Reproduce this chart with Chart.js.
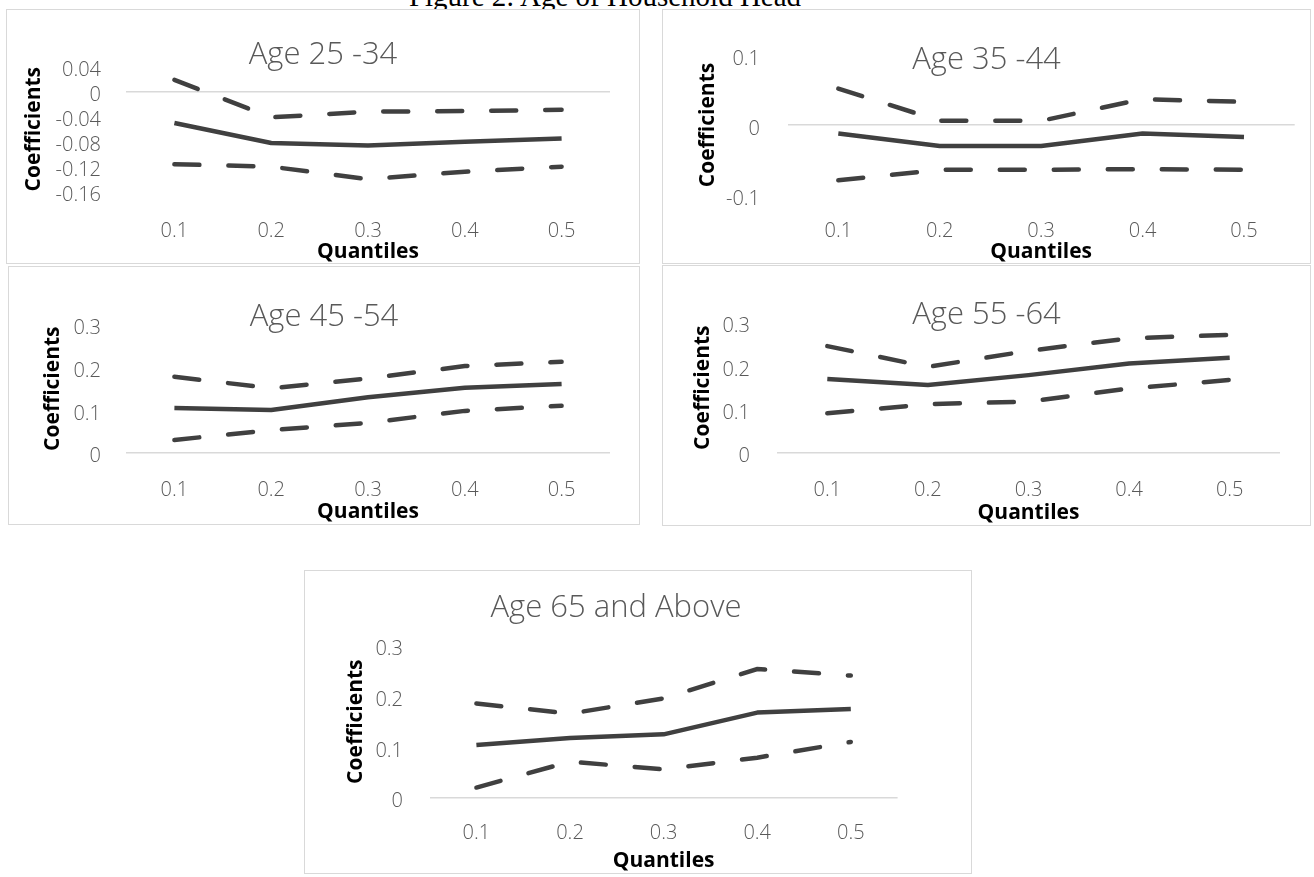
<!DOCTYPE html>
<html>
<head>
<meta charset="utf-8">
<title>Figure 2: Age of Household Head</title>
<script src="https://cdn.jsdelivr.net/npm/chart.js@4.4.1/dist/chart.umd.min.js"></script>
<style>
    body {
        margin: 0;
        width: 1314px;
        height: 877px;
        position: relative;
        overflow: hidden;
        background: #fff;
    }
    .fig-title {
        position: absolute;
        left: 0;
        width: 1210px;
        top: -18px;
        text-align: center;
        font: 29px/29px 'Liberation Serif', 'Times New Roman', serif;
        color: #000;
        white-space: nowrap;
    }
    .panel {
        position: absolute;
        box-sizing: border-box;
        border: 1px solid #d9d9d9;
        background: #fff;
    }
    .panel canvas {
        display: block;
    }
</style>
</head>
<body>
<div class="fig-title">Figure 2: Age of Household Head</div>

<script>
const quantiles = ['0.1', '0.2', '0.3', '0.4', '0.5'];
const panelTitles = ['Age 25 -34', 'Age 35 -44', 'Age 45 -54', 'Age 55 -64', 'Age 65 and Above'];

// y tick labels per panel
const ticks25 = ['0.04', '0', '-0.04', '-0.08', '-0.12', '-0.16'];
const ticks35 = ['0.1', '0', '-0.1'];
const ticks45 = ['0.3', '0.2', '0.1', '0'];
const ticks55 = ['0.3', '0.2', '0.1', '0'];
const ticks65 = ['0.3', '0.2', '0.1', '0'];

// coefficient, upper bound, lower bound
const coef25 = [-0.05, -0.082, -0.086, -0.08, -0.075];
const upper25 = [0.019, -0.041, -0.032, -0.031, -0.029];
const lower25 = [-0.116, -0.12, -0.14, -0.128, -0.12];

const coef35 = [-0.012, -0.03, -0.03, -0.012, -0.017];
const upper35 = [0.052, 0.006, 0.006, 0.037, 0.033];
const lower35 = [-0.079, -0.064, -0.064, -0.063, -0.064];

const coef45 = [0.105, 0.1, 0.13, 0.152, 0.161];
const upper45 = [0.178, 0.151, 0.174, 0.203, 0.213];
const lower45 = [0.03, 0.053, 0.07, 0.098, 0.11];

const coef55 = [0.17, 0.156, 0.179, 0.206, 0.219];
const upper55 = [0.246, 0.198, 0.235, 0.264, 0.272];
const lower55 = [0.091, 0.112, 0.118, 0.148, 0.168];

const coef65 = [0.104, 0.118, 0.125, 0.168, 0.175];
const upper65 = [0.186, 0.166, 0.196, 0.254, 0.241];
const lower65 = [0.02, 0.071, 0.056, 0.079, 0.11];

// page positions (px) of each panel box, plot area and texts
const layouts = [
    { box: [6, 9, 634, 255], plot: [126, 610, 66.7, 191.7], titleMid: 55, shift: 0, yLabelRight: 101, yTitleX: 34, xLabelY: 231, xTitleY: 252 },
    { box: [662, 9, 649, 255], plot: [787.6, 1294.7, 55, 195], titleMid: 60, shift: 0, yLabelRight: 760, yTitleX: 708, xLabelY: 231, xTitleY: 252 },
    { box: [8, 266, 632, 259], plot: [126, 610, 324.7, 452.7], titleMid: 317, shift: 0, yLabelRight: 101, yTitleX: 53, xLabelY: 490, xTitleY: 512 },
    { box: [662, 265, 649, 261], plot: [777, 1280, 322.7, 452.7], titleMid: 315, shift: 0, yLabelRight: 750, yTitleX: 703, xLabelY: 490, xTitleY: 513 },
    { box: [304, 570, 668, 304], plot: [429.6, 897.6, 645.7, 797.7], titleMid: 608, shift: -22, yLabelRight: 403, yTitleX: 356, xLabelY: 833, xTitleY: 861 }
];

const panels = [
    { title: panelTitles[0], ticks: ticks25, coef: coef25, upper: upper25, lower: lower25 },
    { title: panelTitles[1], ticks: ticks35, coef: coef35, upper: upper35, lower: lower35 },
    { title: panelTitles[2], ticks: ticks45, coef: coef45, upper: upper45, lower: lower45 },
    { title: panelTitles[3], ticks: ticks55, coef: coef55, upper: upper55, lower: lower55 },
    { title: panelTitles[4], ticks: ticks65, coef: coef65, upper: upper65, lower: lower65 }
];

const family = "'Open Sans', 'Noto Sans', sans-serif";
const titleFont = { family: family, size: 31, weight: 300, lineHeight: 1.2 };
const tickFont = { family: family, size: 20, weight: 300, lineHeight: 1.2 };
const axisFont = { family: family, size: 21, weight: 'bold', lineHeight: 1.2 };
const lineColor = '#404040';


function boundLine(values) {
    return {
        data: values,
        borderColor: lineColor,
        borderWidth: 4.5,
        borderDash: [25, 29],
        borderCapStyle: 'round',
        pointRadius: 0,
        fill: false,
        tension: 0
    };
}


function drawPanel(panel, L) {
    const [bx, by, bw, bh] = L.box;
    const [plotLeft, plotRight, plotTop, plotBottom] = L.plot;

    const div = document.createElement('div');
    div.className = 'panel';
    div.style.left = bx + 'px';
    div.style.top = by + 'px';
    div.style.width = bw + 'px';
    div.style.height = bh + 'px';
    const canvas = document.createElement('canvas');
    const W = bw - 2;
    const H = bh - 2;
    canvas.width = W;
    canvas.height = H;
    div.appendChild(canvas);
    document.body.appendChild(div);

    // content origin of the canvas on the page
    const cx = bx + 1;
    const cy = by + 1;

    const padRight = W - (plotRight - cx);
    const padLeft = padRight + 2 * L.shift;
    const yAxisWidth = (plotLeft - cx) - padLeft;
    const xAxisHeight = H - (plotBottom - cy);

    const titleLH = titleFont.size * titleFont.lineHeight;
    const titlePadTop = (L.titleMid - cy) - titleLH / 2;
    const titlePadBottom = (plotTop - cy) - titlePadTop - titleLH;

    const tickLH = tickFont.size * tickFont.lineHeight;
    const axisLH = axisFont.size * axisFont.lineHeight;

    const tickValues = panel.ticks.map(Number).sort((a, b) => a - b);

    new Chart(canvas, {
        type: 'line',
        data: {
            labels: quantiles,
            datasets: [
                boundLine(panel.upper),
                {
                    data: panel.coef,
                    borderColor: lineColor,
                    borderWidth: 4.5,
                    borderJoinStyle: 'round',
                    pointRadius: 0,
                    fill: false,
                    tension: 0
                },
                boundLine(panel.lower)
            ]
        },
        options: {
            responsive: false,
            animation: false,
            events: [],
            layout: {
                padding: { left: padLeft, right: padRight, top: 0, bottom: 0 }
            },
            plugins: {
                legend: { display: false },
                tooltip: { enabled: false },
                title: {
                    display: true,
                    text: panel.title,
                    color: '#595959',
                    font: titleFont,
                    padding: { top: titlePadTop, bottom: titlePadBottom }
                }
            },
            scales: {
                x: {
                    offset: true,
                    grid: { display: false, drawTicks: false },
                    border: { display: false },
                    ticks: {
                        color: '#595959',
                        font: tickFont,
                        padding: L.xLabelY - plotBottom - tickLH / 2,
                        maxRotation: 0,
                        autoSkip: false
                    },
                    title: {
                        display: true,
                        text: 'Quantiles',
                        color: '#000',
                        font: axisFont,
                        padding: { top: 0, bottom: (cy + H) - L.xTitleY - axisLH / 2 }
                    },
                    afterFit: scale => { scale.height = xAxisHeight; }
                },
                y: {
                    min: tickValues[0],
                    max: tickValues[tickValues.length - 1],
                    grid: {
                        drawTicks: false,
                        lineWidth: 1.5,
                        color: ctx => (ctx.tick && Math.abs(ctx.tick.value) < 1e-9) ? '#d9d9d9' : 'rgba(0,0,0,0)'
                    },
                    border: { display: false },
                    afterBuildTicks: scale => {
                        scale.ticks = tickValues.map(v => ({ value: v }));
                    },
                    ticks: {
                        color: '#595959',
                        font: tickFont,
                        autoSkip: false,
                        padding: plotLeft - L.yLabelRight,
                        labelOffset: 4,
                        callback: value => panel.ticks.find(t => Math.abs(Number(t) - value) < 1e-9)
                    },
                    title: {
                        display: true,
                        text: 'Coefficients',
                        color: '#000',
                        font: axisFont,
                        padding: { top: (L.yTitleX - cx) - padLeft - axisLH / 2, bottom: 0 }
                    },
                    afterFit: scale => { scale.width = yAxisWidth; }
                }
            }
        }
    });
}

panels.forEach((panel, i) => drawPanel(panel, layouts[i]));
</script>
</body>
</html>
